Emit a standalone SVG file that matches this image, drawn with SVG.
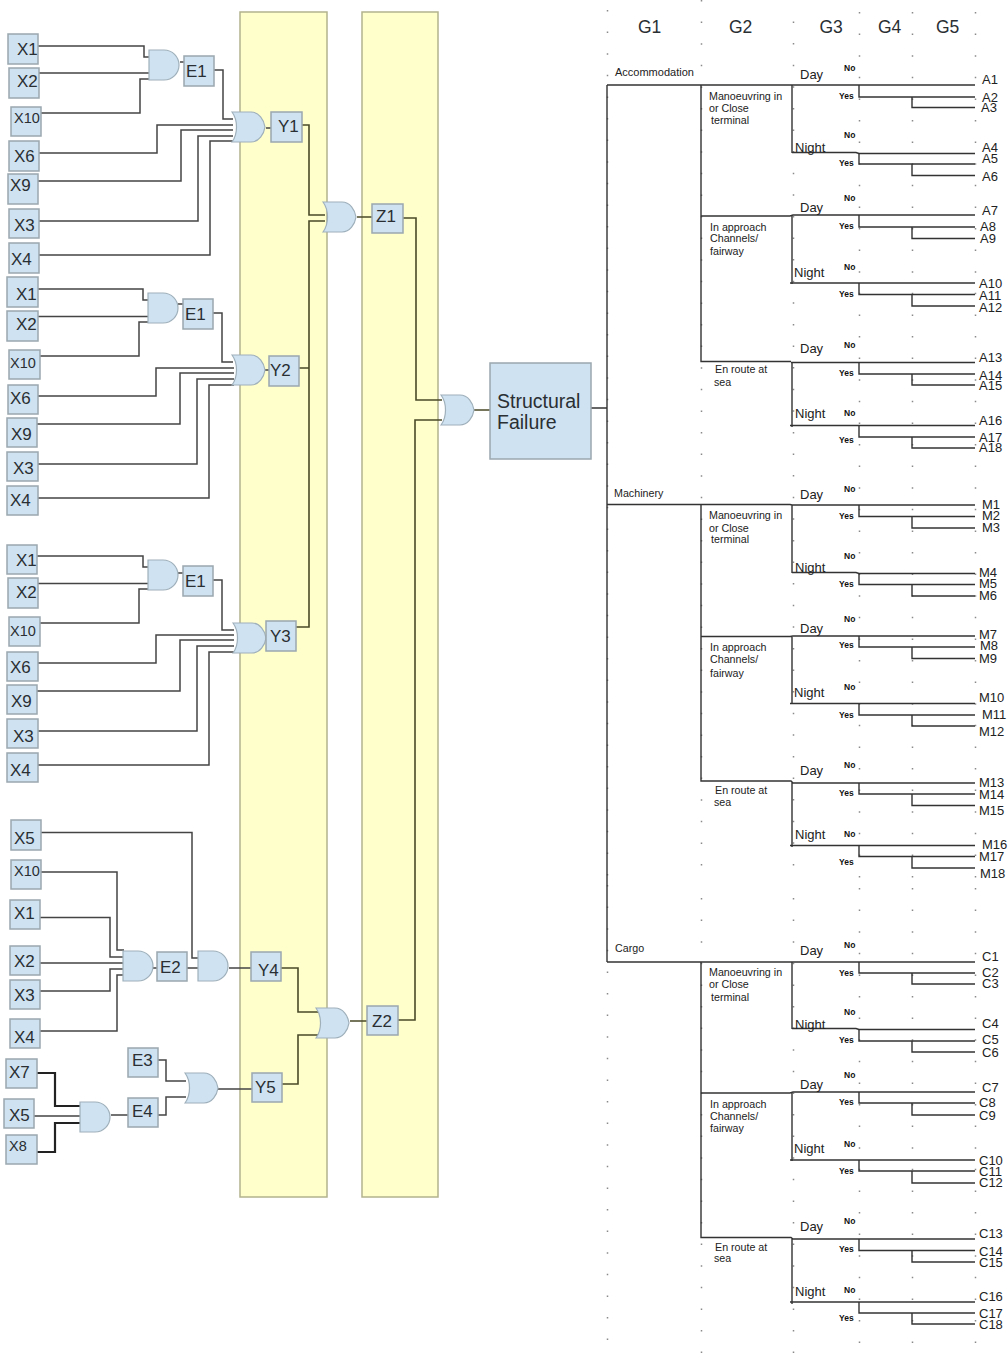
<svg xmlns="http://www.w3.org/2000/svg" width="1008" height="1354" viewBox="0 0 1008 1354">
<style>
text{font-family:"Liberation Sans",Arial,sans-serif;fill:#2a2f33}
.box{fill:#cfe2f1;stroke:#9aa7ae;stroke-width:1.5}
.gate{fill:#cfe2f1;stroke:#9fb0bb;stroke-width:1.2}
.band{fill:#ffffcc;stroke:#b3b38e;stroke-width:1.5}
.wire{fill:none;stroke:#444;stroke-width:1.5}
.thick{fill:none;stroke:#222;stroke-width:2.2}
.olive{fill:none;stroke:#4a4a28;stroke-width:1.6}
.tree{fill:none;stroke:#333;stroke-width:1.4}
.dots{stroke:#8a8a8a;stroke-width:1.5;stroke-dasharray:1.5 20.1;fill:none}
.l{font-size:17px}.m{font-size:14.5px}.big{font-size:19.5px}.g{font-size:17.5px}
.t{font-size:13px;fill:#222}.c{font-size:10.7px;fill:#222}
.b{font-size:8.5px;font-weight:bold;fill:#111}
</style>
<defs>
<path id="and" class="gate" d="M0 0H15A15 15 0 0 1 15 30H0Z"/>
<path id="or" class="gate" d="M0 0H19C27 0 32 8 33 15C32 22 27 30 19 30H0C6 22 6 8 0 0Z"/>
</defs>
<g id="bands">
<rect class="band" x="240" y="12" width="87" height="1185"/>
<rect class="band" x="362" y="12" width="76" height="1185"/>
</g>
<g id="grid-dots">
<path class="dots" d="M607.500 10V880"/><path class="dots" d="M607.500 885V1354"/>
<path class="dots" d="M701.500 0V870"/><path class="dots" d="M701.500 898V1354"/>
<path class="dots" d="M793.500 21.500V870"/><path class="dots" d="M793.500 898V1354"/>
<path class="dots" d="M859.500 12V880"/><path class="dots" d="M859.500 888V1354"/>
<path class="dots" d="M912.500 12V880"/><path class="dots" d="M912.500 888V1354"/>
<path class="dots" d="M975.500 12V880"/><path class="dots" d="M975.500 888V1354"/>
</g>
<g id="connectors">
<path class="wire" d="M38 46H144V57H150M39 73H150M41 113H140V79H150M180 62H184M214 70H223V119H233M39 153H157V125H233M38 181H181V130H233M39 221H198V136H233M39 255H210V141H233M266 128H271"/>
<path class="wire" d="M38 289H143V300H148M38 316.500H148M40 356H139V322H148M178 304H183M213 313H222V362H233M38 396H156V368H234M37 424H180V373H234M38 464H197V379H234M38 498H209V385H234M264 370H269"/>
<path class="wire" d="M37 556H143V567H148M38 583.500H148M40 623H139V589H148M178 573H183M213 580H222V630H234M38 663H156V635H234M37 691H180V640H234M38 731H197V646H234M38 765H209V652H234M265 638H266"/>
<path class="olive" d="M302 125H309V215H325M296 627H309V221H325M299 368H309M357 217H372M403 218H416V400H442M398 1020H415V420H442M474 410H490"/>
<path class="wire" d="M41 832.500H192V958H198M41 872H117V950H124M40 917.500H110V957H124M40 963H124M40 991H110V969H124M40 1031H117V975H124M153 968H157M187 968H198M229 968H251"/>
<path class="olive" d="M281 968H298V1012H318M282 1084H298V1035H318M350 1021H367"/>
<path class="wire" d="M158 1060H166V1081H186M158 1115H166V1097H186M218 1089H252M111 1115H128M34 1116H80"/>
<path class="thick" d="M37 1073H55V1106H80M37 1152H55V1123H80"/>
<path class="tree" d="M591 408H607M607 85V962"/>
<path class="tree" d="M607 85H975M701 85V361.500H791M701 216H790L793 215H975M792 85V153M792 152.500H856L859 153.500H975M792 216V284M790 283H975M792 362V427M790 425.500H975M791 362.500H975"/>
<path class="tree" d="M859 85V97H975M912 97V107.500H975M859 153V164H975M912 164V175.500H975M859 215V227H975M912 227V238.500H975M859 283V294.500H975M912 294.500V306H975M859 362.500V374H975M912 374V385H975M859 425.500V437H975M912 437V448H975"/>
<path class="tree" d="M607 504.500H790L792 505H975M701 504.500V781H791L793 783H975M701 636.500H790L793 636H975M792 505V573M792 572.500H856L859 573.500H975M792 636V704M790 703.500H975M792 782V847M790 845.500H975"/>
<path class="tree" d="M859 505V516.500H975M912 516.500V528H975M859 573V584.500H975M912 584.500V596H975M859 636V647H975M912 647V658.500H975M859 703.500V715H975M912 715V726H975M859 783V794H975M912 794V805.500H975M859 845.500V856.500H975M912 856.500V868H975"/>
<path class="tree" d="M607 962H975M701 962V1237.500H791L793 1239H975M701 1093H790L793 1092H975M792 962V1029M792 1028.500H856L859 1029.500H975M792 1093V1161M790 1160H975M792 1238V1304M790 1302H975"/>
<path class="tree" d="M859 962V973H975M912 973V984H975M859 1029V1041H975M912 1041V1052H975M859 1092V1103H975M912 1103V1115H975M859 1160V1171H975M912 1171V1183H975M859 1239V1250.500H975M912 1250.500V1262H975M859 1302V1313H975M912 1313V1324H975"/>
</g>
<g id="gates">
<g id="gate-and-e1a"><use href="#and" x="149" y="50"/></g>
<g id="gate-or-y1"><use href="#or" x="232" y="112"/></g>
<g id="gate-or-z1"><use href="#or" x="323" y="202"/></g>
<g id="gate-or-top"><use href="#or" x="441" y="395"/></g>
<g id="gate-and-e1b"><use href="#and" x="148" y="293"/></g>
<g id="gate-or-y2"><use href="#or" x="232" y="355"/></g>
<g id="gate-and-e1c"><use href="#and" x="148" y="560"/></g>
<g id="gate-or-y3"><use href="#or" x="233" y="623"/></g>
<g id="gate-and-e2"><use href="#and" x="123" y="951"/></g>
<g id="gate-and-y4"><use href="#and" x="198" y="951"/></g>
<g id="gate-or-z2"><use href="#or" x="316" y="1008"/></g>
<g id="gate-or-y5"><use href="#or" x="185" y="1073"/></g>
<g id="gate-and-e4"><use href="#and" x="80" y="1102"/></g>
</g>
<g id="a-x1"><rect class="box" x="8" y="34" width="30" height="30"/><text class="l" x="17" y="55">X1</text></g>
<g id="a-x2"><rect class="box" x="9" y="68" width="30" height="30"/><text class="l" x="17" y="87">X2</text></g>
<g id="a-x10"><rect class="box" x="11" y="107" width="30" height="29"/><text class="m" x="14" y="123">X10</text></g>
<g id="a-x6"><rect class="box" x="9" y="141" width="30" height="30"/><text class="l" x="14" y="162">X6</text></g>
<g id="a-x9"><rect class="box" x="8" y="174" width="30" height="30"/><text class="l" x="10" y="191">X9</text></g>
<g id="a-x3"><rect class="box" x="9" y="209" width="30" height="29"/><text class="l" x="14" y="231">X3</text></g>
<g id="a-x4"><rect class="box" x="9" y="243" width="30" height="30"/><text class="l" x="11" y="265">X4</text></g>
<g id="a-e1"><rect class="box" x="184" y="56" width="30" height="30"/><text class="l" x="186" y="77">E1</text></g>
<g id="y1"><rect class="box" x="271" y="112" width="31" height="30"/><text class="l" x="278" y="132">Y1</text></g>
<g id="z1"><rect class="box" x="372" y="204" width="31" height="29"/><text class="l" x="376" y="222">Z1</text></g>
<g id="b-x1"><rect class="box" x="7" y="277" width="31" height="30"/><text class="l" x="16" y="300">X1</text></g>
<g id="b-x2"><rect class="box" x="7" y="311" width="31" height="30"/><text class="l" x="16" y="330">X2</text></g>
<g id="b-x10"><rect class="box" x="9" y="350" width="31" height="29"/><text class="m" x="10" y="368">X10</text></g>
<g id="b-x6"><rect class="box" x="8" y="385" width="30" height="29"/><text class="l" x="10" y="404">X6</text></g>
<g id="b-x9"><rect class="box" x="7" y="418" width="30" height="29"/><text class="l" x="11" y="440">X9</text></g>
<g id="b-x3"><rect class="box" x="7" y="452" width="31" height="29"/><text class="l" x="13" y="474">X3</text></g>
<g id="b-x4"><rect class="box" x="7" y="486" width="31" height="29"/><text class="l" x="10" y="506">X4</text></g>
<g id="b-e1"><rect class="box" x="183" y="299" width="30" height="30"/><text class="l" x="185" y="320">E1</text></g>
<g id="y2"><rect class="box" x="269" y="356" width="30" height="30"/><text class="l" x="270" y="376">Y2</text></g>
<g id="c-x1"><rect class="box" x="7" y="545" width="30" height="29"/><text class="l" x="16" y="566">X1</text></g>
<g id="c-x2"><rect class="box" x="8" y="578" width="30" height="30"/><text class="l" x="16" y="598">X2</text></g>
<g id="c-x10"><rect class="box" x="9" y="617" width="31" height="29"/><text class="m" x="10" y="636">X10</text></g>
<g id="c-x6"><rect class="box" x="7" y="652" width="31" height="29"/><text class="l" x="10" y="673">X6</text></g>
<g id="c-x9"><rect class="box" x="7" y="685" width="30" height="29"/><text class="l" x="11" y="707">X9</text></g>
<g id="c-x3"><rect class="box" x="7" y="719" width="31" height="29"/><text class="l" x="13" y="742">X3</text></g>
<g id="c-x4"><rect class="box" x="7" y="753" width="31" height="29"/><text class="l" x="10" y="776">X4</text></g>
<g id="c-e1"><rect class="box" x="183" y="566" width="30" height="30"/><text class="l" x="185" y="587">E1</text></g>
<g id="y3"><rect class="box" x="266" y="621" width="30" height="30"/><text class="l" x="270" y="642">Y3</text></g>
<g id="d-x5"><rect class="box" x="11" y="820" width="30" height="30"/><text class="l" x="14" y="844">X5</text></g>
<g id="d-x10"><rect class="box" x="11" y="860" width="30" height="29"/><text class="m" x="14" y="876">X10</text></g>
<g id="d-x1"><rect class="box" x="10" y="900" width="30" height="29"/><text class="l" x="14" y="919">X1</text></g>
<g id="d-x2"><rect class="box" x="10" y="946" width="30" height="29"/><text class="l" x="14" y="967">X2</text></g>
<g id="d-x3"><rect class="box" x="10" y="980" width="30" height="29"/><text class="l" x="14" y="1001">X3</text></g>
<g id="d-x4"><rect class="box" x="10" y="1019" width="30" height="29"/><text class="l" x="14" y="1043">X4</text></g>
<g id="e2"><rect class="box" x="157" y="952" width="30" height="29"/><text class="l" x="160" y="973">E2</text></g>
<g id="y4"><rect class="box" x="251" y="952" width="30" height="29"/><text class="l" x="258" y="976">Y4</text></g>
<g id="y5"><rect class="box" x="252" y="1073" width="30" height="29"/><text class="l" x="255" y="1093">Y5</text></g>
<g id="z2"><rect class="box" x="367" y="1006" width="31" height="29"/><text class="l" x="372" y="1027">Z2</text></g>
<g id="e3"><rect class="box" x="128" y="1048" width="30" height="29"/><text class="l" x="132" y="1066">E3</text></g>
<g id="e4"><rect class="box" x="128" y="1098" width="30" height="29"/><text class="l" x="132" y="1117">E4</text></g>
<g id="e-x7"><rect class="box" x="6" y="1059" width="31" height="29"/><text class="l" x="9" y="1078">X7</text></g>
<g id="e-x5"><rect class="box" x="4" y="1099" width="30" height="29"/><text class="l" x="9" y="1121">X5</text></g>
<g id="e-x8"><rect class="box" x="6" y="1135" width="31" height="29"/><text class="m" x="9" y="1151">X8</text></g>
<g id="structural-failure"><rect class="box" x="490" y="363" width="101" height="96"/><text class="big" x="497" y="408">Structural</text><text class="big" x="497" y="429">Failure</text></g>
<g id="headers">
<text class="g" x="638" y="33">G1</text><text class="g" x="729" y="33">G2</text><text class="g" x="819.500" y="33">G3</text><text class="g" x="878" y="33">G4</text><text class="g" x="936" y="33">G5</text>
</g>
<g id="tree-accommodation">
<text class="c" style="font-size:11px" x="615" y="76">Accommodation</text>
<text class="c" x="709" y="100">Manoeuvring in</text><text class="c" x="709" y="112">or Close</text><text class="c" x="711" y="124">terminal</text>
<text class="c" x="710" y="231">In approach</text><text class="c" x="710" y="242">Channels/</text><text class="c" x="710" y="255">fairway</text>
<text class="c" x="715" y="373">En route at</text><text class="c" x="714" y="386">sea</text>
<text class="t" x="800" y="79">Day</text><text class="t" x="795" y="152">Night</text><text class="t" x="800" y="212">Day</text><text class="t" x="794" y="277">Night</text><text class="t" x="800" y="353">Day</text><text class="t" x="795" y="418">Night</text>
<text class="b" x="844" y="71">No</text><text class="b" x="844" y="138">No</text><text class="b" x="844" y="201">No</text><text class="b" x="844" y="270">No</text><text class="b" x="844" y="348">No</text><text class="b" x="844" y="416">No</text>
<text class="b" x="839" y="99">Yes</text><text class="b" x="839" y="166">Yes</text><text class="b" x="839" y="229">Yes</text><text class="b" x="839" y="297">Yes</text><text class="b" x="839" y="376">Yes</text><text class="b" x="839" y="443">Yes</text>
<text class="t" x="982" y="84">A1</text><text class="t" x="982" y="102">A2</text><text class="t" x="981" y="112">A3</text><text class="t" x="982" y="152">A4</text><text class="t" x="982" y="163">A5</text><text class="t" x="982" y="181">A6</text><text class="t" x="982" y="215">A7</text><text class="t" x="980" y="231">A8</text><text class="t" x="980" y="243">A9</text><text class="t" x="979" y="288">A10</text><text class="t" x="979" y="300">A11</text><text class="t" x="979" y="312">A12</text><text class="t" x="979" y="362">A13</text><text class="t" x="979" y="380">A14</text><text class="t" x="979" y="390">A15</text><text class="t" x="979" y="425">A16</text><text class="t" x="979" y="442">A17</text><text class="t" x="979" y="452">A18</text>
</g>
<g id="tree-machinery">
<text class="c" x="614" y="497">Machinery</text>
<text class="c" x="709" y="519">Manoeuvring in</text><text class="c" x="709" y="532">or Close</text><text class="c" x="711" y="543">terminal</text>
<text class="c" x="710" y="651">In approach</text><text class="c" x="710" y="663">Channels/</text><text class="c" x="710" y="677">fairway</text>
<text class="c" x="715" y="794">En route at</text><text class="c" x="714" y="806">sea</text>
<text class="t" x="800" y="499">Day</text><text class="t" x="795" y="572">Night</text><text class="t" x="800" y="633">Day</text><text class="t" x="794" y="697">Night</text><text class="t" x="800" y="775">Day</text><text class="t" x="795" y="839">Night</text>
<text class="b" x="844" y="492">No</text><text class="b" x="844" y="559">No</text><text class="b" x="844" y="622">No</text><text class="b" x="844" y="690">No</text><text class="b" x="844" y="768">No</text><text class="b" x="844" y="837">No</text>
<text class="b" x="839" y="519">Yes</text><text class="b" x="839" y="587">Yes</text><text class="b" x="839" y="648">Yes</text><text class="b" x="839" y="718">Yes</text><text class="b" x="839" y="796">Yes</text><text class="b" x="839" y="865">Yes</text>
<text class="t" x="982" y="509">M1</text><text class="t" x="982" y="520">M2</text><text class="t" x="982" y="532">M3</text><text class="t" x="979" y="577">M4</text><text class="t" x="979" y="588">M5</text><text class="t" x="979" y="600">M6</text><text class="t" x="979" y="639">M7</text><text class="t" x="980" y="650">M8</text><text class="t" x="979" y="663">M9</text><text class="t" x="979" y="702">M10</text><text class="t" x="982" y="719">M11</text><text class="t" x="979" y="736">M12</text><text class="t" x="979" y="787">M13</text><text class="t" x="979" y="799">M14</text><text class="t" x="979" y="815">M15</text><text class="t" x="982" y="849">M16</text><text class="t" x="979" y="861">M17</text><text class="t" x="980" y="878">M18</text>
</g>
<g id="tree-cargo">
<text class="c" x="615" y="952">Cargo</text>
<text class="c" x="709" y="976">Manoeuvring in</text><text class="c" x="709" y="988">or Close</text><text class="c" x="711" y="1001">terminal</text>
<text class="c" x="710" y="1108">In approach</text><text class="c" x="710" y="1120">Channels/</text><text class="c" x="710" y="1132">fairway</text>
<text class="c" x="715" y="1251">En route at</text><text class="c" x="714" y="1262">sea</text>
<text class="t" x="800" y="955">Day</text><text class="t" x="795" y="1029">Night</text><text class="t" x="800" y="1089">Day</text><text class="t" x="794" y="1153">Night</text><text class="t" x="800" y="1231">Day</text><text class="t" x="795" y="1296">Night</text>
<text class="b" x="844" y="948">No</text><text class="b" x="844" y="1015">No</text><text class="b" x="844" y="1078">No</text><text class="b" x="844" y="1147">No</text><text class="b" x="844" y="1224">No</text><text class="b" x="844" y="1293">No</text>
<text class="b" x="839" y="976">Yes</text><text class="b" x="839" y="1043">Yes</text><text class="b" x="839" y="1105">Yes</text><text class="b" x="839" y="1174">Yes</text><text class="b" x="839" y="1252">Yes</text><text class="b" x="839" y="1321">Yes</text>
<text class="t" x="982" y="961">C1</text><text class="t" x="982" y="977">C2</text><text class="t" x="982" y="988">C3</text><text class="t" x="982" y="1028">C4</text><text class="t" x="982" y="1044">C5</text><text class="t" x="982" y="1057">C6</text><text class="t" x="982" y="1092">C7</text><text class="t" x="979" y="1107">C8</text><text class="t" x="979" y="1120">C9</text><text class="t" x="979" y="1165">C10</text><text class="t" x="979" y="1176">C11</text><text class="t" x="979" y="1187">C12</text><text class="t" x="979" y="1238">C13</text><text class="t" x="979" y="1256">C14</text><text class="t" x="979" y="1267">C15</text><text class="t" x="979" y="1301">C16</text><text class="t" x="979" y="1318">C17</text><text class="t" x="979" y="1329">C18</text>
</g>
</svg>
